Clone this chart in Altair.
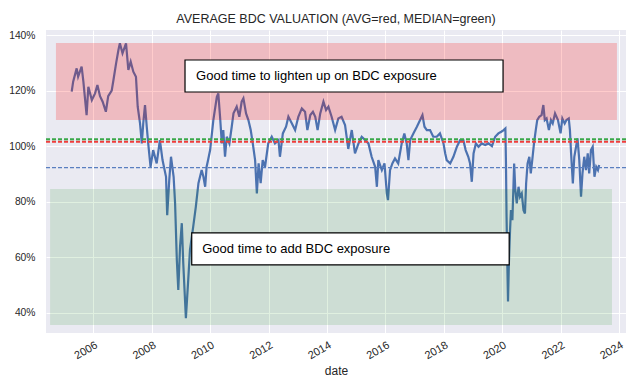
import altair as alt
import pandas as pd

# Series: decimal year and valuation (price / NAV ratio)
years = [
    2005.26, 2005.31, 2005.43, 2005.48, 2005.60, 2005.66, 2005.77, 2005.83, 2005.95, 2006.06,
    2006.14, 2006.23, 2006.32, 2006.43, 2006.51, 2006.63, 2006.69, 2006.78, 2006.86, 2006.91,
    2007.00, 2007.12, 2007.20, 2007.28, 2007.37, 2007.46, 2007.52, 2007.60, 2007.66, 2007.71,
    2007.77, 2007.83, 2007.88, 2007.96, 2008.05, 2008.17, 2008.28, 2008.37, 2008.49, 2008.53,
    2008.60, 2008.66, 2008.75, 2008.80, 2008.86, 2008.91, 2008.97, 2009.03, 2009.08, 2009.17,
    2009.25, 2009.31, 2009.42, 2009.51, 2009.60, 2009.71, 2009.77, 2009.83, 2009.88, 2009.93,
    2010.00, 2010.11, 2010.23, 2010.28, 2010.34, 2010.40, 2010.45, 2010.51, 2010.57, 2010.66,
    2010.74, 2010.80, 2010.91, 2011.00, 2011.08, 2011.14, 2011.23, 2011.31, 2011.39, 2011.46,
    2011.54, 2011.60, 2011.66, 2011.73, 2011.80, 2011.88, 2011.99, 2012.11, 2012.22, 2012.34,
    2012.39, 2012.49, 2012.60, 2012.68, 2012.80, 2012.91, 2013.02, 2013.14, 2013.25, 2013.33,
    2013.43, 2013.52, 2013.60, 2013.68, 2013.77, 2013.88, 2013.97, 2014.05, 2014.16, 2014.28,
    2014.39, 2014.50, 2014.62, 2014.73, 2014.85, 2014.96, 2015.08, 2015.19, 2015.31, 2015.42,
    2015.53, 2015.65, 2015.71, 2015.76, 2015.88, 2015.97, 2016.05, 2016.09, 2016.16, 2016.24,
    2016.33, 2016.44, 2016.56, 2016.65, 2016.73, 2016.79, 2016.85, 2016.96, 2017.08, 2017.19,
    2017.27, 2017.34, 2017.42, 2017.53, 2017.64, 2017.76, 2017.87, 2017.99, 2018.05, 2018.10,
    2018.22, 2018.33, 2018.45, 2018.56, 2018.67, 2018.75, 2018.84, 2018.90, 2018.96, 2019.02,
    2019.10, 2019.19, 2019.30, 2019.42, 2019.53, 2019.65, 2019.76, 2019.87, 2019.97, 2020.05,
    2020.11, 2020.13, 2020.15, 2020.18, 2020.20, 2020.23, 2020.27, 2020.30, 2020.35, 2020.41,
    2020.45, 2020.50, 2020.56, 2020.61, 2020.67, 2020.73, 2020.78, 2020.82, 2020.87, 2020.93,
    2020.98, 2021.03, 2021.09, 2021.15, 2021.20, 2021.27, 2021.35, 2021.41, 2021.46, 2021.52,
    2021.60, 2021.67, 2021.73, 2021.81, 2021.91, 2022.00, 2022.06, 2022.14, 2022.20, 2022.28,
    2022.32, 2022.36, 2022.42, 2022.47, 2022.53, 2022.58, 2022.64, 2022.70, 2022.75, 2022.81,
    2022.87, 2022.93, 2022.98, 2023.04, 2023.10, 2023.16, 2023.22, 2023.28, 2023.32,
]
values = [
    1.196, 1.232, 1.280, 1.250, 1.286, 1.232, 1.112, 1.214, 1.166, 1.190,
    1.220, 1.180, 1.160, 1.124, 1.180, 1.200, 1.238, 1.298, 1.346, 1.370,
    1.334, 1.370, 1.274, 1.304, 1.268, 1.250, 1.142, 1.082, 1.010, 1.082,
    1.148, 1.070, 1.010, 0.926, 0.986, 0.938, 1.022, 0.950, 0.890, 0.752,
    0.878, 0.962, 0.890, 0.795, 0.590, 0.483, 0.638, 0.723, 0.579, 0.381,
    0.519, 0.627, 0.710, 0.782, 0.867, 0.914, 0.890, 0.854, 0.926, 0.950,
    0.986, 1.094, 1.178, 1.190, 1.106, 1.010, 1.058, 0.962, 1.034, 1.010,
    1.070, 1.118, 1.142, 1.106, 1.160, 1.172, 1.118, 1.094, 1.058, 1.010,
    0.950, 0.830, 0.938, 0.867, 0.950, 0.926, 1.010, 1.034, 1.010, 1.022,
    0.962, 1.046, 1.070, 1.106, 1.082, 1.058, 1.106, 1.136, 1.124, 1.058,
    1.112, 1.124, 1.106, 1.058, 1.118, 1.160, 1.130, 1.142, 1.106, 1.058,
    1.100, 1.106, 1.076, 0.990, 1.058, 0.974, 1.010, 1.034, 1.022, 1.010,
    0.962, 0.926, 0.854, 0.950, 0.914, 0.938, 0.830, 0.806, 0.914, 0.938,
    0.956, 0.938, 1.010, 1.046, 1.010, 0.950, 1.022, 1.046, 1.070, 1.094,
    1.112, 1.070, 1.058, 1.058, 1.034, 1.034, 1.046, 1.010, 0.974, 0.950,
    0.938, 0.962, 0.998, 1.022, 1.022, 0.986, 0.962, 0.938, 0.872, 0.974,
    1.010, 0.998, 1.010, 1.004, 1.010, 1.000, 1.034, 1.046, 1.052, 1.058,
    1.064, 0.938, 0.746, 0.555, 0.441, 0.579, 0.698, 0.770, 0.734, 0.938,
    0.842, 0.794, 0.854, 0.818, 0.830, 0.770, 0.758, 0.866, 0.938, 0.962,
    0.902, 0.950, 1.010, 1.058, 1.094, 1.106, 1.112, 1.148, 1.094, 1.100,
    1.058, 1.094, 1.082, 1.118, 1.094, 1.046, 1.100, 1.082, 1.094, 1.100,
    1.058, 0.974, 0.866, 0.962, 0.998, 1.028, 0.950, 0.818, 0.902, 0.962,
    0.914, 0.974, 0.902, 0.986, 0.998, 0.890, 0.926, 0.914, 0.932,
]

# Reference levels
avg_level = 1.016
median_level = 1.025
low_level = 0.923

# Shaded zones (x from/to in years, y from/to)
zone_x0 = [2004.72, 2004.52]
zone_x1 = [2023.93, 2023.76]
zone_y0 = [1.094, 0.357]
zone_y1 = [1.371, 0.846]
zone_color = ["#ff0000", "#008000"]
zone_opacity = [0.2, 0.12]

# Annotation boxes
note_text = ["Good time to lighten up on BDC exposure", "Good time to add BDC exposure"]
note_x0 = [2009.14, 2009.37]
note_x1 = [2020.03, 2020.24]
note_y0 = [1.195, 0.573]
note_y1 = [1.310, 0.688]
note_tx = [2009.52, 2009.73]

x_ticks = list(range(2006, 2025, 2))
y_ticks = [0.4, 0.6, 0.8, 1.0, 1.2, 1.4]

series = pd.DataFrame({"year": years, "value": values})
zones = pd.DataFrame({"x0": zone_x0, "x1": zone_x1, "y0": zone_y0, "y1": zone_y1,
                      "c": zone_color, "o": zone_opacity})
notes = pd.DataFrame({"t": note_text, "x0": note_x0, "x1": note_x1, "y0": note_y0,
                      "y1": note_y1, "tx": note_tx})
notes["ty"] = (notes["y0"] + notes["y1"]) / 2

xs = alt.Scale(domain=[2004.38, 2024.24], nice=False, zero=False)
ys = alt.Scale(domain=[0.328, 1.418], nice=False, zero=False)

x_axis = alt.Axis(values=x_ticks, format="d", labelAngle=-30, labelAlign="right",
                  labelBaseline="top", labelPadding=6, title="date", titlePadding=5,
                  labelFontSize=11)
y_axis = alt.Axis(values=y_ticks, format=".0%", title=None, labelPadding=11,
                  labelFontSize=10.3)

line = alt.Chart(series).mark_line(color="#4C72B0", strokeWidth=2.2).encode(
    x=alt.X("year:Q", scale=xs, axis=x_axis),
    y=alt.Y("value:Q", scale=ys, axis=y_axis),
)

bands = alt.Chart(zones).mark_rect().encode(
    x="x0:Q", x2="x1:Q", y="y0:Q", y2="y1:Q",
    color=alt.Color("c:N", scale=None),
    opacity=alt.Opacity("o:Q", scale=None),
)

blue_rule = alt.Chart(pd.DataFrame({"v": [low_level]})).mark_rule(
    color="#5a7fc0", strokeWidth=1.2, strokeDash=[4, 2]).encode(y="v:Q")
red_rule = alt.Chart(pd.DataFrame({"v": [avg_level]})).mark_rule(
    color="#f03c3c", strokeWidth=2, strokeDash=[4, 2]).encode(y="v:Q")
green_rule = alt.Chart(pd.DataFrame({"v": [median_level]})).mark_rule(
    color="#3aa84a", strokeWidth=2, strokeDash=[4, 2]).encode(y="v:Q")

boxes = alt.Chart(notes).mark_rect(fill="white", stroke="black", strokeWidth=1.2).encode(
    x="x0:Q", x2="x1:Q", y="y0:Q", y2="y1:Q")
labels = alt.Chart(notes).mark_text(align="left", baseline="middle", fontSize=13,
                                    font="Liberation Sans", color="black").encode(
    x="tx:Q", y="ty:Q", text="t:N")

chart = alt.layer(line, bands, blue_rule, red_rule, green_rule, boxes, labels).properties(
    width=580, height=303,
    title=alt.TitleParams("AVERAGE BDC VALUATION (AVG=red, MEDIAN=green)", fontSize=12.5,
                          font="Liberation Sans", fontWeight="normal", color="#262626",
                          anchor="middle", offset=5),
    autosize=alt.AutoSizeParams(type="none"),
    padding={"left": 38, "top": 22, "right": 6, "bottom": 44},
).configure_view(fill="#EAEAF2", strokeWidth=0).configure_axis(
    grid=True, gridColor="white", gridWidth=1, domain=False, ticks=False,
    labelFont="Liberation Sans", labelColor="#262626",
    titleFont="Liberation Sans", titleFontSize=12, titleColor="#262626", titleFontWeight="normal",
)

chart.save("out.html", embed_options={"renderer": "svg", "actions": False})
